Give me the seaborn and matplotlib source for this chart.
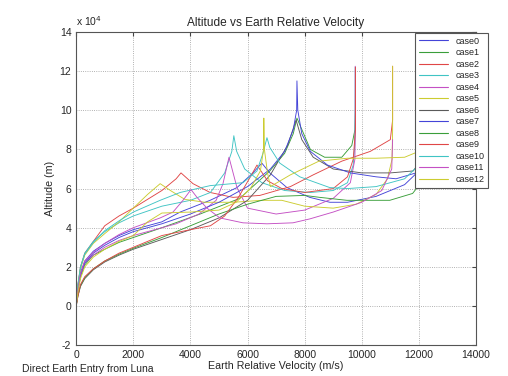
import matplotlib
matplotlib.use("Agg")
import matplotlib.pyplot as plt
import pandas as pd
import seaborn as sns
from matplotlib.ticker import FuncFormatter

# velocity (m/s) and altitude (m), one pair of lists per case
v0 = [0, 30, 60, 150, 300, 600, 1000, 1500, 2000, 3000, 3640, 4690, 5630, 6190, 6500, 6780, 7380, 8180, 8880, 9500, 10500, 11500, 12000, 12100, 12100]
h0 = [0, 5000, 9000, 17000, 23000, 28000, 32000, 36000, 39000, 43000, 48000, 54000, 60500, 68000, 73000, 68000, 60500, 55500, 53000, 53000, 56000, 62000, 69000, 80000, 122000]

v1 = [0, 30, 60, 150, 300, 600, 1000, 1500, 2000, 3000, 4340, 5730, 6780, 7300, 7600, 7730, 8200, 8700, 9300, 9650, 9760, 9780, 9780]
h1 = [0, 4500, 8000, 15000, 21000, 26000, 29000, 32500, 35000, 40000, 47000, 55000, 69000, 78000, 88000, 96000, 80000, 76000, 76000, 82000, 90000, 101000, 122000]

v2 = [0, 30, 60, 150, 300, 600, 1000, 1500, 2000, 3000, 3500, 3670, 4090, 4690, 5490, 6430, 7500, 8300, 9300, 10300, 11000, 11080, 11080]
h2 = [0, 6000, 11000, 20000, 27000, 33000, 41000, 46000, 50000, 59000, 65000, 68000, 62500, 58000, 55500, 56500, 61000, 67000, 74000, 79000, 85000, 95000, 122500]

v3 = [0, 30, 60, 150, 300, 600, 1000, 1500, 2000, 3000, 4000, 4700, 5200, 5450, 5520, 5620, 5900, 6500, 7300, 8200, 9000, 9500, 9700, 9760, 9770]
h3 = [0, 6000, 11000, 20000, 27000, 33000, 38000, 42500, 46000, 51000, 54000, 58000, 68000, 79000, 87000, 79000, 70000, 63000, 59000, 58000, 59000, 63000, 72000, 83000, 122000]

v4 = [0, 30, 60, 150, 300, 600, 1000, 1500, 2000, 2500, 3500, 4300, 4900, 5140, 5350, 5630, 6000, 7000, 8000, 9000, 9600, 9760, 9770, 9770]
h4 = [0, 4500, 8000, 16000, 22000, 26000, 30000, 33500, 36000, 38000, 42000, 47000, 54000, 62500, 76000, 60500, 50000, 47000, 49000, 55000, 63000, 75000, 90000, 122500]

v5 = [0, 30, 60, 150, 300, 600, 1000, 1500, 2000, 2500, 2940, 3300, 3800, 4500, 5500, 6500, 7200, 8000, 9000, 9800, 10500, 10900, 11060, 11080, 11080]
h5 = [0, 5500, 10000, 19000, 26000, 32000, 37000, 43000, 50000, 57000, 62500, 59000, 54500, 53000, 53000, 54000, 54000, 51000, 50000, 52000, 57000, 65000, 75000, 90000, 122500]

v6 = [0, 30, 60, 150, 300, 600, 1000, 1500, 2000, 3000, 4000, 5000, 6000, 6800, 7400, 7700, 7900, 8300, 9000, 10000, 11000, 11800, 12100, 12200, 12200]
h6 = [0, 2500, 5000, 10000, 14000, 18500, 22500, 26000, 29000, 34000, 39000, 45000, 54000, 67000, 82000, 95000, 85000, 76000, 70000, 68000, 68000, 69000, 75000, 90000, 122000]

v7 = [0, 30, 60, 150, 300, 600, 1000, 1500, 2000, 3000, 4000, 5000, 6000, 6800, 7300, 7600, 7720, 7730, 7760, 7900, 8200, 8800, 9600, 10500, 11200, 11900, 12050, 12100]
h7 = [0, 4500, 8000, 16000, 22000, 27000, 31000, 35000, 38000, 42000, 47000, 53000, 61000, 70000, 79000, 90000, 100000, 115000, 100000, 88000, 79000, 72000, 68000, 66000, 65000, 68000, 75000, 122000]

v8 = [0, 30, 60, 150, 300, 600, 1000, 1500, 2000, 3000, 4000, 5000, 6000, 7000, 8000, 8530, 9480, 10980, 11780, 12130, 12200, 12230, 12230]
h8 = [0, 3000, 5500, 10500, 14500, 19000, 23000, 26500, 29500, 35000, 41000, 47000, 52000, 56000, 56500, 55500, 54000, 54000, 57500, 64000, 73000, 90000, 122000]

v9 = [0, 30, 60, 150, 300, 600, 1000, 1500, 2000, 3000, 4000, 4700, 5200, 5700, 6100, 6330, 6700, 7200, 8000, 9000, 9500, 9700, 9780, 9780]
h9 = [0, 2500, 5000, 11000, 15000, 19000, 23000, 27000, 30000, 36000, 39000, 41000, 46000, 56000, 66000, 72000, 64000, 60000, 58000, 60000, 66000, 75000, 90000, 122000]

v10 = [0, 30, 60, 150, 300, 600, 1000, 1500, 2000, 2940, 3640, 4690, 5840, 6330, 6540, 6680, 6780, 7130, 7830, 8880, 9500, 10500, 11500, 12000, 12100, 12100]
h10 = [0, 6000, 10500, 19500, 26500, 32500, 38500, 43500, 48000, 54000, 58000, 61500, 63000, 69000, 78000, 86000, 81000, 73000, 66000, 60500, 60000, 61000, 65000, 72000, 85000, 122000]

v11 = [0, 30, 60, 150, 300, 600, 1000, 1500, 2000, 2940, 3390, 3740, 4020, 4230, 4580, 5030, 5840, 6680, 7590, 8180, 9000, 10000, 10700, 11050, 11080]
h11 = [0, 4500, 8500, 16500, 23000, 27500, 32000, 36500, 40000, 45000, 48000, 54000, 59500, 55500, 50000, 45000, 42500, 42000, 42500, 44500, 48000, 53000, 59000, 70000, 85000]

v12 = [0, 30, 60, 150, 300, 600, 1000, 1500, 2000, 2500, 3000, 4000, 5000, 5600, 6100, 6450, 6560, 6570, 6590, 6700, 6800, 7500, 8500, 9500, 10500, 11500, 12000, 12150, 12150]
h12 = [0, 3500, 7000, 14000, 20000, 25000, 29000, 33000, 36000, 43000, 47500, 48000, 49000, 53000, 60000, 69000, 80000, 96000, 80000, 68000, 61000, 67000, 74000, 75500, 75500, 76000, 79000, 90000, 122000]

velocities = [v0, v1, v2, v3, v4, v5, v6, v7, v8, v9, v10, v11, v12]
altitudes = [h0, h1, h2, h3, h4, h5, h6, h7, h8, h9, h10, h11, h12]
case_names = ["case%d" % i for i in range(13)]

# matlab-ish colour order, repeated
colors = ["#4444d8", "#3a9e3a", "#e04646", "#40c4c4", "#c450c4", "#cccc30", "#5a5a5a"]
palette = [colors[i % 7] for i in range(13)]

frames = []
for name, v, h in zip(case_names, velocities, altitudes):
    frames.append(pd.DataFrame({"velocity": v, "altitude": h, "case": name}))
df = pd.concat(frames, ignore_index=True)

sns.set_style("white")
plt.rcParams["font.family"] = ["Liberation Sans", "DejaVu Sans"]

fig = plt.figure(figsize=(5.08, 3.76), dpi=100)
ax = fig.add_axes([0.150, 0.082, 0.787, 0.833])

sns.lineplot(data=df, x="velocity", y="altitude", hue="case", palette=palette,
             sort=False, estimator=None, units="case", linewidth=0.65, ax=ax)

ax.set_xlim(0, 14000)
ax.set_ylim(-20000, 140000)
ax.set_xticks(range(0, 14001, 2000))
ax.set_yticks(range(-20000, 140001, 20000))
ax.yaxis.set_major_formatter(FuncFormatter(lambda y, p: "%d" % round(y / 10000)))
ax.grid(True, linestyle=":", color="#999999", linewidth=0.6)
ax.tick_params(direction="in", length=3, labelsize=7.5, color="#444444", top=True, right=True,
               labeltop=False, labelright=False)
for s in ax.spines.values():
    s.set_color("#555555")
    s.set_linewidth(0.8)

ax.set_title("Altitude vs Earth Relative Velocity", fontsize=8.6, pad=4)
ax.set_xlabel("Earth Relative Velocity (m/s)", fontsize=7.7, labelpad=1)
ax.set_ylabel("Altitude (m)", fontsize=7.7, labelpad=3)
ax.text(0.0, 1.012, r"x 10$^4$", transform=ax.transAxes, fontsize=7.5, ha="left", va="bottom")
fig.text(0.043, 0.005, "Direct Earth Entry from Luna", fontsize=7.5, ha="left", va="bottom")

handles, labels = ax.get_legend_handles_labels()
leg = ax.legend(handles, labels, loc="upper left", bbox_to_anchor=(415 / 508, 1 - 33 / 376),
                bbox_transform=fig.transFigure, fontsize=6.5, frameon=True, fancybox=False,
                handlelength=3.3, handletextpad=0.8, labelspacing=0.28, borderpad=0.4,
                borderaxespad=0)
leg.get_frame().set_edgecolor("#555555")
leg.get_frame().set_linewidth(0.8)
leg.get_frame().set_alpha(1)
for line in leg.get_lines():
    line.set_linewidth(0.8)

fig.savefig("out.png", dpi=100)
